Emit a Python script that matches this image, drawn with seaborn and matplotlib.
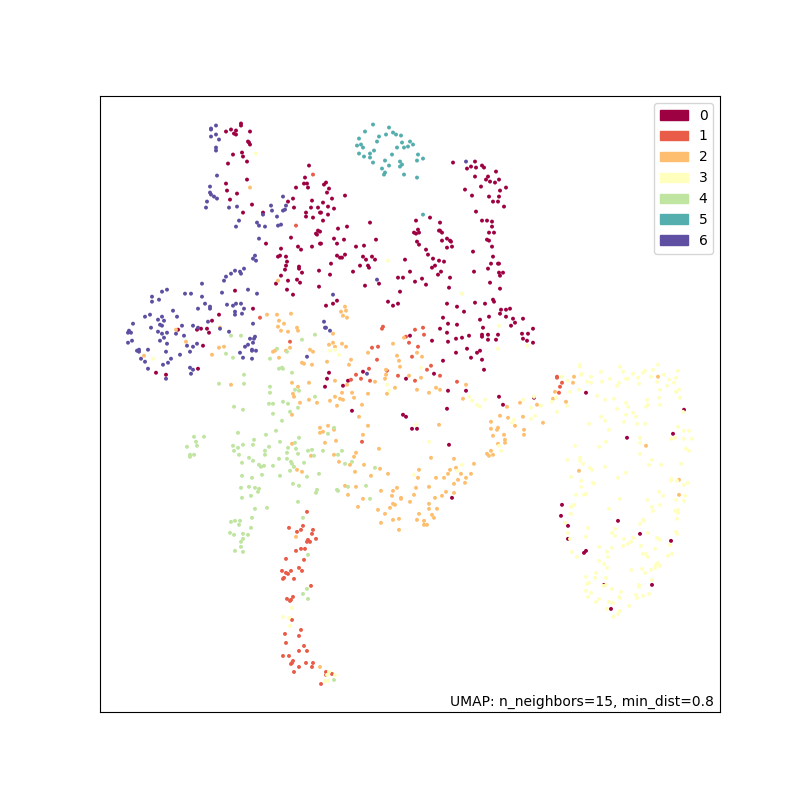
import numpy as np
import pandas as pd
import matplotlib
matplotlib.use('Agg')
import matplotlib.pyplot as plt
from matplotlib.patches import Patch
import seaborn as sns

# embedding positions, one list per cluster
cluster_0 = [(226,132),(231,130),(236,131),(234,134),(236,135),(241,124),(241,126),(250,132),(248,142),(249,143),(250,145),(233,155),(242,153),(243,157),(247,162),(228,164),(247,180),(226,184),(227,191),(237,194),(230,200),(252,205),(243,213),(263,213),(309,166),(305,178),(304,184),(307,184),(308,188),(296,188),(293,199),(288,202),(294,208),(312,201),(311,208),(318,208),(306,213),(306,217),(313,218),(320,213),(291,238),(316,234),(317,235),(318,231),(320,232),(266,244),(298,247),(301,250),(312,247),(320,244),(281,249),(278,257),(280,256),(286,257),(287,262),(286,266),(285,270),(299,267),(299,269),(302,273),(319,271),(281,276),(288,281),(276,284),(297,280),(300,283),(319,287),(287,290),(293,295),(235,291),(253,309),(219,315),
    (326,306),(212,321),(178,330),(197,330),(201,329),(207,329),(209,333),(203,346),(156,373),(166,375),(198,369),(329,373),(327,379),(325,387),
    (453,163),(475,162),(471,167),(467,169),(476,168),(482,166),(484,168),(496,172),(475,177),(488,177),(486,180),(490,182),(495,183),(499,180),(481,187),(465,190),(500,191),(506,188),(472,196),(489,197),(499,197),(493,202),(498,202),(504,207),(476,212),
    (482,221),(487,221),(492,222),(492,227),(489,233),(494,233),(487,240),(489,241),(492,247),(473,252),(493,257),(491,264),(498,264),(499,264),(488,269),(474,272),(499,273),(503,273),(500,276),(490,283),(500,289),(475,303),(485,304),(493,300),(494,302),(501,310),(506,310),(510,309),(500,314),(506,317),(489,317),(513,319),(523,319),(480,320),(515,323),(511,326),(483,328),(533,329),
    (416,221),(430,218),(440,223),(418,230),(414,233),(416,234),(419,233),(439,231),(440,231),(442,233),(442,241),(447,239),(450,241),(451,242),(447,248),(452,247),(417,242),(419,245),(426,250),(428,255),(433,259),(439,261),(444,262),(435,266),(432,268),(441,272),(438,275),(450,278),(410,272),(422,279),(415,282),(426,285),(449,288),(405,260),(398,278),(403,278),(400,292),(388,302),(393,306),(398,304),(447,304),(457,307),(464,312),(443,318),(448,324),(457,325),(440,329),
    (326,183),(324,185),(329,189),(327,193),(332,199),(345,196),(323,203),(328,207),(334,209),(321,213),(328,215),(323,221),(338,229),(347,227),(370,223),(334,239),(344,240),(337,244),(321,244),(356,247),(364,246),(376,240),(337,256),(340,258),(342,258),(345,255),(363,257),(366,260),(372,257),(375,260),(331,264),(360,266),(368,266),(369,268),(353,272),(330,275),(365,286),(379,284),(337,301),(333,304),
    (410,336),(432,341),(447,333),(448,342),(456,339),(462,338),(469,336),(482,335),(482,337),(488,335),(488,340),(496,340),(498,335),(522,334),(528,334),(523,339),(527,341),(533,343),(456,353),(467,349),(477,353),(480,351),(471,358),(482,360),(443,361),(484,370),(434,374),(406,379),(448,391),(466,391),(363,372),(348,381),(343,386),(352,411),(447,409),(499,397),(503,405),(534,398),(403,415),(406,417),(412,429),(417,429),(449,445),(452,498),
    (586,393),(684,410),(673,434),(627,438),(562,505),(561,516),(568,526),(568,539),(618,521),(640,534),(671,541),(586,551),(584,553),(652,585),(604,585),(611,609)]

cluster_1 = [(313,175),(296,226),(260,318),(290,342),(382,329),(383,327),(415,330),(423,328),(406,337),(424,335),(409,343),(418,347),(372,348),(378,347),(412,357),(377,360),(431,366),(427,370),(369,369),(387,371),(356,375),(398,376),(440,376),(361,379),(351,380),(370,381),(415,381),(457,382),(362,442),(557,377),(557,378),(559,393),(562,383),(560,387),
    (307,512),(303,526),(289,528),(301,530),(297,532),(313,530),(312,534),(316,539),(308,540),(307,542),(310,542),(301,549),(305,549),(296,551),(286,559),(304,560),(299,568),(302,571),(282,571),(291,571),(286,573),(288,574),(284,578),(283,579),(294,579),(311,586),(293,597),(287,599),(290,601),(291,600),(292,620),(301,630),(285,634),(299,636),(286,643),(304,646),(299,651),(307,651),(283,656),(289,656),(293,661),(292,663),(291,664),(306,663),(313,663),(312,667),(299,667),(294,672),(326,672),(326,675),(332,674),(321,684)]

cluster_2 = [(250,188),(278,281),(267,315),(277,315),(291,314),(176,330),(220,328),(279,321),(284,324),(278,327),(281,331),(288,332),(297,328),(298,331),(186,342),(219,348),(224,347),(212,355),(144,356),(273,352),(275,351),(290,348),(286,351),(279,358),(310,350),(313,352),(329,345),(302,363),(304,364),(312,365),(327,362),(292,383),(231,385),(298,387),(309,383),(293,394),(294,397),(309,400),(300,403),(317,403),(330,401),(292,415),(320,428),(328,426),(320,433),(323,432),(325,443),(292,444),(311,456),(297,470),(302,472),
    (345,307),(346,311),(341,312),(343,316),(347,318),(333,334),(333,343),(342,344),(335,347),(346,347),(368,353),(351,360),(349,365),(393,344),(404,338),(397,356),(417,353),(422,357),(399,361),(400,367),(386,370),(386,375),(385,379),(409,376),(421,378),(335,381),(375,382),(347,385),(395,388),(417,390),(436,388),(440,390),(429,393),(466,385),(342,393),(352,393),(368,394),(387,394),(335,397),(354,398),(340,399),(343,400),(463,399),(362,405),(337,406),(359,417),(368,426),(439,425),(334,430),(363,435),(336,441),(379,449),(356,453),(334,455),(354,457),(431,458),(339,462),(350,465),(364,465),(454,459),(474,464),(456,468),(380,469),(419,470),(450,470),(355,472),(388,474),(371,476),(418,478),(461,474),(448,474),(471,474),(436,478),(444,478),(466,478),(458,480),(454,484),(465,483),(345,486),(356,487),(397,488),(416,488),(429,487),(381,491),(393,491),(446,492),(454,493),(442,496),(414,495),(348,495),(392,496),(401,498),(435,498),(401,499),(363,499),(410,502),(393,504),(395,505),(429,504),(358,507),(390,508),(429,509),(437,509),(378,510),(385,514),(419,514),(432,515),(434,518),(399,519),(393,520),(417,520),(381,523),(424,521),(424,525),(427,525),(399,530),
    (491,422),(500,416),(508,418),(523,417),(515,426),(491,429),(498,428),(497,430),(524,430),(543,423),(493,436),(504,435),(524,435),(505,440),(505,443),(498,444),(491,451),(487,454),(489,456),(493,455),(520,403),(507,407),(537,405),(553,399),(555,392),
    (574,377),(658,377),(566,402),(646,446),(579,471),(679,480),(679,495),(573,383),(296,537),(320,667)]

cluster_3 = [(580,365),(580,367),(620,367),(658,365),(582,374),(581,375),(601,372),(623,372),(633,374),(643,373),(645,371),(653,370),(664,375),(678,371),(591,377),(562,377),(638,378),(651,377),(610,379),(626,379),(628,379),(669,380),(676,378),(568,381),(587,382),(591,383),(602,382),(619,383),(639,384),(657,382),(674,383),(617,386),(667,386),(579,390),(570,392),(660,390),(676,392),(679,390),(597,396),(659,398),(680,398),(534,397),(556,398),(605,400),(614,399),(647,400),(552,402),(626,403),(567,406),(541,406),(648,405),(646,407),(660,405),(628,407),(617,409),(531,408),(557,412),(683,412),(633,413),(626,415),(535,416),(636,417),(531,419),(601,417),(605,421),(624,422),(589,424),(637,424),(645,424),(678,427),(609,430),(684,431),(689,431),(671,439),(675,438),(684,439),(692,439),(640,438),(606,442),(640,443),(575,446),(599,447),(686,449),(689,451),(640,454),(580,458),(567,460),(580,461),(652,460),(583,464),(649,465),(661,465),(681,464),(605,467),(590,468),(592,470),(626,473),(571,477),(618,478),(671,479),(671,481),(677,481),(581,481),(593,483),(594,484),(684,485),(688,483),(581,487),(659,492),(663,496),(685,496),(576,495),(586,494),(584,495),(620,499),(647,500),(676,500),(684,501),(574,505),(660,505),(571,507),(652,507),(609,509),(653,511),(675,511),(678,510),(678,513),(571,514),(677,519),(643,520),(644,521),(640,524),(565,523),(588,528),(615,529),(568,533),(612,533),(648,533),(676,532),(677,534),(615,536),(586,537),(624,539),(633,538),(657,538),(660,540),(570,539),(631,542),(628,544),(641,546),(623,546),(599,547),(612,548),(670,545),(655,549),(572,552),(607,552),(643,554),(646,554),(672,554),(668,556),(577,557),(608,557),(648,557),(599,561),(604,564),(658,563),(656,565),(660,566),(607,568),(655,568),(651,570),(631,570),(642,569),(645,573),(596,573),(586,577),(595,578),(606,578),(652,580),(589,583),(587,584),(639,585),(639,587),(606,585),(603,586),(612,589),(586,591),(621,592),(591,593),(649,594),(636,595),(643,596),(637,598),(588,597),(619,597),(620,598),(599,599),(596,602),(609,602),(613,603),(629,606),(607,609),(620,611),(618,614),(613,617),
    (256,154),(388,261),(462,294),(499,326),(153,359),(330,351),(335,350),(339,355),(498,349),(527,346),(421,368),(387,385),(389,391),(469,397),(472,401),(485,400),(477,405),(480,407),(523,400),(512,423),(514,420),(416,425),(429,442),(499,446),(501,451),(462,465),(457,471),(414,475),
    (292,608),(283,617),(289,618),(290,626),(329,672),(335,675),(327,675),(325,681),(328,681)]

cluster_4 = [(231,336),(241,336),(315,335),(302,340),(226,354),(233,358),(277,349),(287,352),(270,359),(279,369),(282,368),(283,369),(292,373),(244,375),(219,384),(244,384),(270,387),(270,393),(295,390),(299,391),(315,397),(269,404),(273,404),(283,402),(288,404),(298,408),(290,412),(273,414),(234,407),(243,410),(282,421),(276,431),(238,433),(266,435),(328,434),(254,440),(299,438),(194,437),(204,437),(196,442),(187,447),(197,446),(190,455),(194,455),(190,457),(233,446),(243,445),(253,445),(238,448),(234,451),(269,447),(280,442),(265,451),(295,443),(288,448),(296,449),(308,451),(312,450),(323,451),(239,455),(265,455),(287,453),(298,454),(314,456),(249,458),(279,459),(287,459),(242,463),(253,461),(291,462),(292,464),(304,463),(259,465),(264,466),(261,467),(273,466),(294,467),(290,471),(262,475),(242,476),(252,478),(280,476),(307,477),(319,474),(293,484),(299,486),(241,488),(249,487),(255,488),(259,489),(258,492),(317,490),(316,493),(251,496),(242,498),(298,502),(267,508),(255,509),
    (334,428),(342,451),(338,455),(345,464),(352,462),(375,468),(348,487),(366,486),(337,490),(338,491),(370,499),
    (252,518),(235,521),(231,522),(240,521),(239,525),(251,528),(230,533),(234,535),(243,534),(248,535),(243,539),(241,542),(241,547),(235,551),(243,552),(303,518),(308,555),(307,589),(303,594),(308,599),(334,680)]

cluster_5 = [(373,125),(389,128),(365,132),(386,135),(393,133),(396,135),(401,136),(379,137),(359,139),(377,142),(402,143),(410,142),(413,145),(408,147),(404,148),(397,148),(357,146),(361,145),(363,148),(374,151),(359,154),(370,154),(364,157),(370,158),(392,155),(418,155),(417,161),(423,159),(373,163),(385,161),(400,162),(402,165),(400,167),(389,166),(382,169),(385,173),(384,175),(404,175),(417,178),(423,215)]

cluster_6 = [(216,126),(211,129),(211,130),(211,137),(216,135),(219,140),(216,148),(216,151),(217,176),(210,187),(210,193),(211,195),(214,197),(217,199),(207,202),(206,208),(229,208),(237,207),(283,197),(271,206),(286,206),(272,211),(283,211),(285,210),(263,215),(277,217),(239,221),(236,227),(257,223),(259,226),(265,227),(278,226),(281,225),(259,239),(255,256),(253,259),(256,261),(244,269),(235,271),(231,274),(240,272),(241,274),(226,277),(224,281),(202,284),(167,290),(162,292),(152,297),(152,302),(159,300),(185,294),(191,294),(202,297),(222,293),(248,290),(257,294),(173,311),(198,309),(205,304),(210,307),(210,309),(227,305),(233,306),(236,304),(241,304),(244,309),(235,312),(235,315),(242,314),(145,317),(150,315),(162,317),(177,317),
    (133,324),(158,320),(164,321),(160,325),(162,326),(182,326),(193,326),(198,328),(208,322),(151,328),(129,331),(128,333),(131,333),(158,332),(162,334),(167,333),(164,338),(176,334),(184,336),(220,329),(229,332),(253,324),(160,341),(132,341),(128,343),(167,344),(187,346),(193,347),(197,344),(190,352),(148,350),(137,351),(139,350),(139,352),(166,352),(180,355),(240,353),(245,347),(248,345),(250,339),(253,343),(255,337),(254,339),(252,350),(252,351),(256,351),(243,358),(252,359),(141,359),(145,362),(171,359),(168,363),(163,365),(148,369),(190,368),(193,370),(191,374),(166,379),(307,357),(324,322),(325,328),(326,328),(330,331),
    (466,162),(377,280),(333,295),(367,374)]

cluster_labels = ['0', '1', '2', '3', '4', '5', '6']
clusters = [cluster_0, cluster_1, cluster_2, cluster_3, cluster_4, cluster_5, cluster_6]
note = 'UMAP: n_neighbors=15, min_dist=0.8'


def build_frame():
    rows = []
    for label, points in zip(cluster_labels, clusters):
        part = pd.DataFrame(points, columns=['x', 'y'])
        part['cluster'] = label
        rows.append(part)
    return pd.concat(rows, ignore_index=True)


def main():
    df = build_frame()
    colors = plt.cm.Spectral(np.linspace(0, 1, len(cluster_labels)))
    palette = dict(zip(cluster_labels, colors))

    fig, ax = plt.subplots(figsize=(8, 8), dpi=100)
    sns.scatterplot(data=df, x='x', y='y', hue='cluster', palette=palette,
                    s=8, linewidth=0, legend=False, ax=ax)

    ax.set_xlim(100, 720)
    ax.set_ylim(712, 96.5)
    ax.set_xticks([])
    ax.set_yticks([])
    ax.set_xlabel('')
    ax.set_ylabel('')

    handles = [Patch(color=c, label=l) for l, c in palette.items()]
    ax.legend(handles=handles, loc='upper right')
    ax.text(0.99, 0.005, note, transform=ax.transAxes, ha='right', va='bottom', fontsize=10)

    fig.savefig('out.png', dpi=100)


if __name__ == "__main__":
    main()
